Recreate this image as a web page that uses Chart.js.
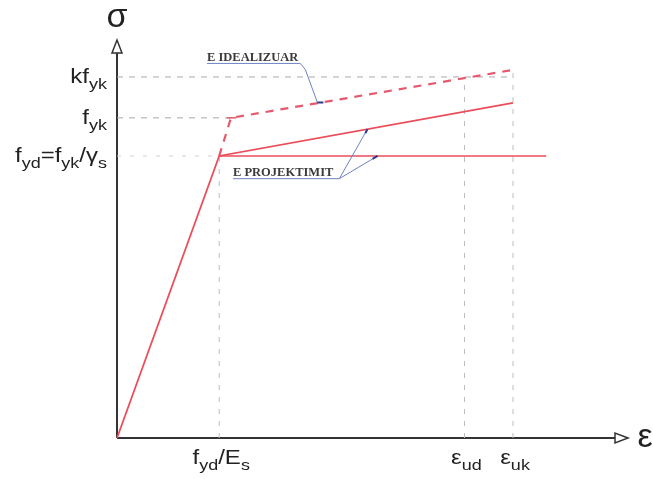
<!DOCTYPE html>
<html>
<head>
  <title>Stress-strain diagram</title>
  <script src="https://cdn.jsdelivr.net/npm/chart.js"></script>
  <style>
    html, body { margin: 0; padding: 0; background: #fff; }
    #chart { display: block; }
  </style>
</head>
<body>
  <canvas id="chart" width="653" height="479"></canvas>
  <script>
    // strain in per mille, stress relative to fyd
    const strainTicks = [2.0, 6.8, 7.75];
    const strainLabels = ['f_{yd}/E_{s}', 'ε_{ud}', 'ε_{uk}'];
    const stressTicks = [1.0, 1.135, 1.28];
    const stressLabels = ['f_{yd}=f_{yk}/γ_{s}', 'f_{yk}', 'kf_{yk}'];

    const designStrain = [0, 2.0, 7.75];
    const designStress = [0, 1.0, 1.188];
    const plasticStrain = [2.0, 8.4];
    const plasticStress = [1.0, 1.0];
    const idealStrain = [2.0, 2.23, 7.75];
    const idealStress = [1.0, 1.135, 1.305];

    const RED = '#ec4d5a';
    const GRID = '#a8a8a8';
    const BLUE = '#6f82c4';

    const pts = (xs, ys) => xs.map((x, i) => ({ x: x, y: ys[i] }));
    const interp = (xs, ys, x) => {
      for (let i = 1; i < xs.length; i++) {
        if (x <= xs[i]) return ys[i - 1] + (x - xs[i - 1]) * (ys[i] - ys[i - 1]) / (xs[i] - xs[i - 1]);
      }
      return ys[ys.length - 1];
    };

    function guide(data, dash, color) {
      return { data: data, borderColor: color || GRID, borderWidth: 1, borderDash: dash || [6, 6], showLine: true, pointRadius: 0 };
    }

    // helper lines read from the tick arrays
    const guides = [
      guide([{ x: 0, y: stressTicks[2] }, { x: strainTicks[2], y: stressTicks[2] }]),
      guide([{ x: 0, y: stressTicks[1] }, { x: idealStrain[1], y: stressTicks[1] }]),
      guide([{ x: 0, y: stressTicks[0] }, { x: strainTicks[0], y: stressTicks[0] }], [4, 9], '#d0d0d0'),
      guide([{ x: strainTicks[0], y: 0 }, { x: strainTicks[0], y: stressTicks[0] }], [5, 7], '#bdbdbd'),
      guide([{ x: strainTicks[1], y: 0 }, { x: strainTicks[1], y: stressTicks[2] }], [5, 7], '#bdbdbd'),
      guide([{ x: strainTicks[2], y: 0 }, { x: strainTicks[2], y: idealStress[2] }], [5, 7], '#bdbdbd')
    ];

    function parts(str) {
      const out = [];
      const re = /_\{([^}]*)\}|[^_]+/g;
      let m;
      while ((m = re.exec(str))) out.push(m[1] !== undefined ? [m[1], true] : [m[0], false]);
      return out;
    }
    // labels in the scan are a little wider than Arial, so stretch them
    function richText(ctx, str, x, y, align, big, small, sx) {
      const segs = parts(str);
      const font = s => s + 'px "Liberation Sans", Arial, sans-serif';
      let w = 0;
      segs.forEach(p => { ctx.font = font(p[1] ? small : big); w += ctx.measureText(p[0]).width; });
      const total = w * sx;
      const start = align === 'right' ? x - total : align === 'center' ? x - total / 2 : x;
      ctx.save();
      ctx.translate(start, y);
      ctx.scale(sx, 1);
      ctx.textAlign = 'left';
      ctx.textBaseline = 'alphabetic';
      let cx = 0;
      segs.forEach(p => {
        ctx.font = font(p[1] ? small : big);
        ctx.fillText(p[0], cx, p[1] ? 6 : 0);
        cx += ctx.measureText(p[0]).width;
      });
      ctx.restore();
    }

    const sketch = {
      id: 'sketch',
      beforeDatasetsDraw(chart) {
        const { ctx, chartArea: a } = chart;
        const ox = a.left, oy = a.bottom;
        ctx.save();
        ctx.strokeStyle = '#333';
        ctx.lineWidth = 2;
        ctx.beginPath();
        ctx.moveTo(ox, oy); ctx.lineTo(a.right - 12, oy);
        ctx.moveTo(ox, oy); ctx.lineTo(ox, a.top + 12);
        ctx.stroke();
        ctx.lineWidth = 1.5;
        ctx.fillStyle = '#fff';
        ctx.beginPath();
        ctx.moveTo(a.right, oy); ctx.lineTo(a.right - 13, oy - 5); ctx.lineTo(a.right - 13, oy + 5); ctx.closePath();
        ctx.fill(); ctx.stroke();
        ctx.beginPath();
        ctx.moveTo(ox, a.top); ctx.lineTo(ox - 5, a.top + 13); ctx.lineTo(ox + 5, a.top + 13); ctx.closePath();
        ctx.fill(); ctx.stroke();
        ctx.restore();
      },
      afterDraw(chart) {
        const { ctx, chartArea: a, scales } = chart;
        const X = scales.x, Y = scales.y;
        ctx.save();
        ctx.fillStyle = '#222';
        stressTicks.forEach((v, i) => richText(ctx, stressLabels[i], a.left - 10, Y.getPixelForValue(v) + 6, 'right', 20, 15, 1.2));
        strainTicks.forEach((v, i) => richText(ctx, strainLabels[i], X.getPixelForValue(v) + 2, a.bottom + 26, 'center', 20, 15, 1.2));
        ctx.font = '34px "Liberation Sans", Arial, sans-serif';
        ctx.textAlign = 'center';
        ctx.textBaseline = 'middle';
        ctx.fillText('σ', a.left, 18);
        ctx.fillText('ε', a.right + 17, a.bottom);

        // annotations
        ctx.font = 'bold 12.5px "Liberation Serif", "Times New Roman", serif';
        ctx.textAlign = 'left';
        ctx.textBaseline = 'alphabetic';
        ctx.fillStyle = '#3a3a3a';
        const t1x = X.getPixelForValue(1.76), t1y = Y.getPixelForValue(1.335);
        ctx.fillText('E IDEALIZUAR', t1x, t1y);
        const w1 = ctx.measureText('E IDEALIZUAR').width;
        const t2x = X.getPixelForValue(2.27), t2y = Y.getPixelForValue(0.93);
        ctx.fillText('E PROJEKTIMIT', t2x, t2y);
        const w2 = ctx.measureText('E PROJEKTIMIT').width;

        const tipI = { x: X.getPixelForValue(4.0), y: Y.getPixelForValue(interp(idealStrain, idealStress, 4.0)) };
        const tipD = { x: X.getPixelForValue(4.9), y: Y.getPixelForValue(interp(designStrain, designStress, 4.9)) };
        const tipP = { x: X.getPixelForValue(5.1), y: Y.getPixelForValue(interp(plasticStrain, plasticStress, 5.1)) };

        ctx.strokeStyle = BLUE;
        ctx.lineWidth = 1;
        ctx.beginPath();
        ctx.moveTo(t1x, t1y + 2); ctx.lineTo(t1x + w1 + 2, t1y + 2);
        ctx.lineTo(t1x + w1 + 7, t1y + 8); ctx.lineTo(tipI.x - 4, tipI.y);
        ctx.moveTo(t2x, t2y + 3); ctx.lineTo(t2x + w2 + 6, t2y + 3);
        ctx.lineTo(tipD.x, tipD.y);
        ctx.moveTo(t2x + w2 + 6, t2y + 3); ctx.lineTo(tipP.x, tipP.y);
        ctx.stroke();
        ctx.strokeStyle = '#2c3d8f';
        ctx.lineWidth = 2;
        ctx.beginPath();
        ctx.moveTo(tipI.x - 4, tipI.y); ctx.lineTo(tipI.x + 2, tipI.y);
        ctx.moveTo(tipD.x - 2, tipD.y + 4); ctx.lineTo(tipD.x, tipD.y);
        ctx.moveTo(tipP.x - 5, tipP.y + 3); ctx.lineTo(tipP.x, tipP.y);
        ctx.stroke();
        ctx.restore();
      }
    };

    new Chart(document.getElementById('chart'), {
      type: 'scatter',
      data: {
        datasets: [
          { data: pts(designStrain, designStress), borderColor: RED, borderWidth: 1.8, showLine: true, pointRadius: 0 },
          { data: pts(plasticStrain, plasticStress), borderColor: RED, borderWidth: 1.5, showLine: true, pointRadius: 0 },
          { data: pts(idealStrain, idealStress), borderColor: '#e6586c', borderWidth: 2.2, borderDash: [8, 7], showLine: true, pointRadius: 0 },
          { data: [{ x: idealStrain[1] - 0.08, y: idealStress[1] }, { x: idealStrain[1] + 0.1, y: idealStress[1] }], borderColor: '#e6586c', borderWidth: 1.5, showLine: true, pointRadius: 0 },
          ...guides
        ]
      },
      options: {
        responsive: false,
        devicePixelRatio: 1,
        animation: false,
        layout: { padding: { left: 117, right: 25, top: 40, bottom: 41 } },
        plugins: { legend: { display: false }, tooltip: { enabled: false } },
        elements: { line: { tension: 0 } },
        datasets: { scatter: { clip: false } },
        scales: {
          x: { type: 'linear', min: 0, max: 10, display: false },
          y: { type: 'linear', min: 0, max: 1.411, display: false }
        }
      },
      plugins: [sketch]
    });
  </script>
</body>
</html>
